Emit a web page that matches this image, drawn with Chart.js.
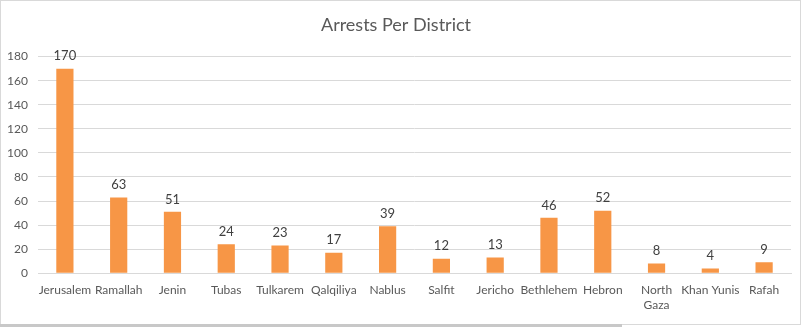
<!DOCTYPE html>
<html>
<head>
<meta charset="utf-8">
<script src="https://cdn.jsdelivr.net/npm/chart.js@4/dist/chart.umd.min.js"></script>
<style>
  body { margin: 0; background: #fff; }
  #box { position: absolute; left: 0; top: 0; width: 799px; height: 323px; border: 1px solid #d9d9d9; }
  #bar { position: absolute; left: 0; top: 324px; width: 622px; height: 3px; background: #c8c8c8; }
</style>
</head>
<body>
<div id="box"><canvas id="arrestsChart" width="799" height="323"></canvas></div>
<div id="bar"></div>
<script>
const districts = ['Jerusalem', 'Ramallah', 'Jenin', 'Tubas', 'Tulkarem', 'Qalqiliya', 'Nablus',
    'Salfit', 'Jericho', 'Bethlehem', 'Hebron', ['North', 'Gaza'], 'Khan Yunis', 'Rafah'];
const arrests = [170, 63, 51, 24, 23, 17, 39, 12, 13, 46, 52, 8, 4, 9];
const yTicks = [0, 20, 40, 60, 80, 100, 120, 140, 160, 180];

const fontFamily = 'Lato, "Open Sans", sans-serif';

// Value labels above each bar
const barValues = {
    id: 'barValues',
    afterDatasetsDraw(chart) {
        const ctx = chart.ctx;
        const meta = chart.getDatasetMeta(0);
        ctx.save();
        ctx.font = '13px ' + fontFamily;
        ctx.fillStyle = '#404040';
        ctx.textAlign = 'center';
        ctx.textBaseline = 'bottom';
        meta.data.forEach((bar, i) => {
            ctx.fillText(arrests[i], bar.x, bar.y - 6);
        });
        ctx.restore();
    }
};

const ctx = document.getElementById('arrestsChart').getContext('2d');
const chart = new Chart(ctx, {
    type: 'bar',
    data: {
        labels: districts,
        datasets: [{
            label: 'Arrests',
            data: arrests,
            backgroundColor: '#f79646',
            categoryPercentage: 1,
            barPercentage: 0.32,
        }],
    },
    options: {
        responsive: false,
        animation: false,
        layout: { padding: { left: 0, right: 9, top: 0, bottom: 10 } },
        plugins: {
            legend: { display: false },
            tooltip: { enabled: false },
            title: {
                display: true,
                text: 'Arrests Per District',
                color: '#595959',
                font: { family: fontFamily, size: 18, weight: 'normal' },
                padding: { top: 13, bottom: 21 },
            },
        },
        scales: {
            x: {
                grid: { display: false },
                border: { color: '#d9d9d9' },
                ticks: {
                    color: '#595959',
                    font: { family: fontFamily, size: 12 },
                    maxRotation: 0,
                    autoSkip: false,
                    padding: 2,
                },
            },
            y: {
                min: 0,
                max: 180,
                afterBuildTicks(axis) {
                    axis.ticks = yTicks.map(v => ({ value: v }));
                },
                afterFit(axis) {
                    axis.width = 37;
                },
                grid: { color: '#d9d9d9', drawTicks: false },
                border: { display: false },
                ticks: {
                    color: '#595959',
                    font: { family: fontFamily, size: 12 },
                    padding: 10,
                },
            },
        },
    },
    plugins: [barValues],
});
</script>
</body>
</html>
